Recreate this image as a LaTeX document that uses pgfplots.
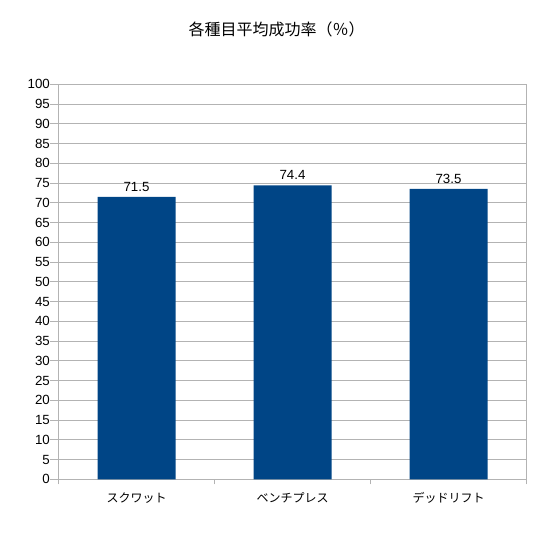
\documentclass[border=0pt]{standalone}
\usepackage{fontspec}
\setmainfont{Liberation Sans}
\newfontfamily\cjk{Noto Sans CJK JP}
\usepackage{pgfplots}
\pgfplotsset{compat=1.18}
\definecolor{barblue}{HTML}{004586}
\definecolor{gridgray}{HTML}{B3B3B3}
\begin{document}
\begin{tikzpicture}
\path[use as bounding box] (0,0) rectangle (553pt,532pt);
\node[font=\cjk\fontsize{16}{18}\selectfont] at (276.5pt,503pt) {各種目平均成功率（％）};
\begin{axis}[
  at={(58.5pt,52.7pt)}, anchor=south west,
  scale only axis, width=468pt, height=395pt,
  xmin=-0.5, xmax=2.5, ymin=0, ymax=100,
  /pgf/number format/assume math mode=true,
  ytick={0,5,...,100},
  xtick={0,1,2},
  xticklabels={{スクワット},{ベンチプレス},{デッドリフト}},
  xticklabel style={font=\cjk\fontsize{12}{14}\selectfont, yshift=-1.5pt},
  yticklabel style={font=\fontsize{13.3}{15}\selectfont, inner sep=0.5pt},
  tick align=outside,
  ytick pos=left, xtick pos=bottom,
  major tick length=8pt,
  major x tick style={draw=none},
  extra x ticks={-0.5,0.5,1.5,2.5},
  extra x tick labels={},
  extra x tick style={major tick length=5pt, major x tick style={draw=gridgray}, xtick pos=bottom},
  ymajorgrids, grid style={gridgray, line width=0.8pt},
  axis line style={gridgray, line width=0.8pt},
  tick style={gridgray, line width=0.8pt},
  ybar, bar width=78pt,
  nodes near coords,
  every node near coord/.append style={font=\fontsize{13.3}{15}\selectfont, black, inner sep=3pt, yshift=2.5pt},
  point meta=explicit symbolic,
]
\addplot[fill=barblue, draw=none] coordinates {(0,71.5) [71.5] (1,74.4) [74.4] (2,73.5) [73.5]};
\end{axis}
\end{tikzpicture}
\end{document}
